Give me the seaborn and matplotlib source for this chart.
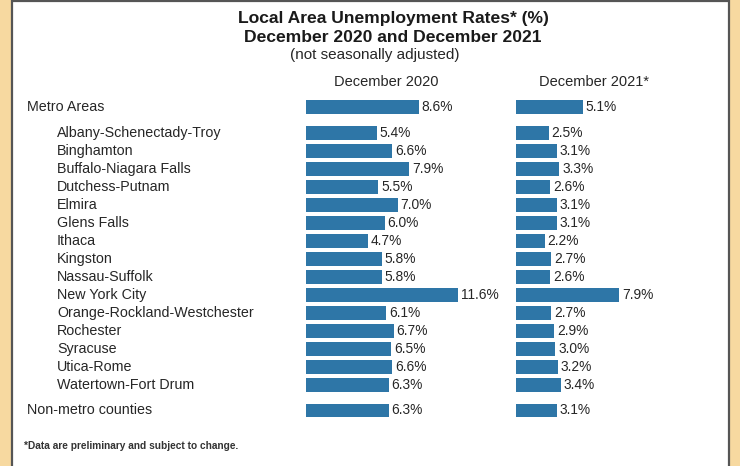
import matplotlib
matplotlib.use("Agg")
import matplotlib.pyplot as plt
import matplotlib.transforms as mtrans
from matplotlib.patches import Rectangle
import seaborn as sns
import pandas as pd

sns.set_theme(style="white")
plt.rcParams['font.family'] = ['Liberation Sans', 'DejaVu Sans']

areas = ["Metro Areas", "Albany-Schenectady-Troy", "Binghamton", "Buffalo-Niagara Falls",
         "Dutchess-Putnam", "Elmira", "Glens Falls", "Ithaca", "Kingston", "Nassau-Suffolk",
         "New York City", "Orange-Rockland-Westchester", "Rochester", "Syracuse",
         "Utica-Rome", "Watertown-Fort Drum", "Non-metro counties"]
dec2020 = [8.6, 5.4, 6.6, 7.9, 5.5, 7.0, 6.0, 4.7, 5.8, 5.8, 11.6, 6.1, 6.7, 6.5, 6.6, 6.3, 6.3]
dec2021 = [5.1, 2.5, 3.1, 3.3, 2.6, 3.1, 3.1, 2.2, 2.7, 2.6, 7.9, 2.7, 2.9, 3.0, 3.2, 3.4, 3.1]
indented = [False] + [True] * 15 + [False]
row_pos = [0.0] + [1.45 + i for i in range(15)] + [16.85]

W, H = 740, 466
fig = plt.figure(figsize=(W / 100, H / 100), dpi=100)
fig.patch.set_facecolor('#F7D9A0')

# white panel with dark border (left, top, right)
fig.patches.append(Rectangle((12 / W, -0.01), (729 - 12) / W, 1.01 - 0.5 / H,
                             transform=fig.transFigure, facecolor='white',
                             edgecolor='#555555', linewidth=1.6, zorder=-5))

BAR = '#2E76A7'
TXT = '#262626'
px_per_unit = 13.1
top_px, bot_px = 95, 425
row_px = 18.0
metro_px = 107.0
ylim_top = -(metro_px - top_px) / row_px
ylim_bot = (bot_px - metro_px) / row_px

df = pd.DataFrame({"area": areas, "pos": row_pos, "d20": dec2020, "d21": dec2021})

def make_ax(left_px, width_px, col):
    ax = fig.add_axes([left_px / W, 1 - bot_px / H, width_px / W, (bot_px - top_px) / H])
    ax.set_facecolor('none')
    ax.set_zorder(2)
    sns.barplot(data=df, x=col, y="pos", orient='h', native_scale=True,
                color=BAR, saturation=1, width=0.74, linewidth=0, edgecolor='none', ax=ax)
    ax.set_xlim(0, width_px / px_per_unit)
    ax.set_ylim(ylim_bot, ylim_top)
    ax.set_axis_off()
    for p, v in zip(df["pos"], df[col]):
        ax.text(v + 0.22, p, f"{v:.1f}%", va='center', ha='left', fontsize=9.9, color=TXT)
    return ax

ax1 = make_ax(306, 200, "d20")
ax2 = make_ax(516, 200, "d21")

# category labels
tr = mtrans.blended_transform_factory(fig.transFigure, ax1.transData)
for name, p, ind in zip(areas, row_pos, indented):
    x = (57 if ind else 27) / W
    ax1.text(x, p, name, transform=tr, va='center', ha='left', fontsize=10.3, color=TXT,
             clip_on=False)

# headers
fig.text(386 / W, 1 - 82 / H, "December 2020", ha='center', va='center', fontsize=10.5, color=TXT)
fig.text(594 / W, 1 - 82 / H, "December 2021*", ha='center', va='center', fontsize=10.5, color=TXT)

# titles
fig.text(393 / W, 1 - 19 / H, "Local Area Unemployment Rates* (%)", ha='center', va='center',
         fontsize=12.6, fontweight='bold', color='#1a1a1a')
fig.text(393 / W, 1 - 37 / H, "December 2020 and December 2021", ha='center', va='center',
         fontsize=12.6, fontweight='bold', color='#1a1a1a')
fig.text(375 / W, 1 - 55 / H, "(not seasonally adjusted)", ha='center', va='center',
         fontsize=11, color=TXT)

fig.text(24 / W, 1 - 446 / H, "*Data are preliminary and subject to change.", ha='left',
         va='center', fontsize=7.3, fontweight='bold', color='#333333')

fig.savefig("out.png", dpi=100, facecolor=fig.get_facecolor())
